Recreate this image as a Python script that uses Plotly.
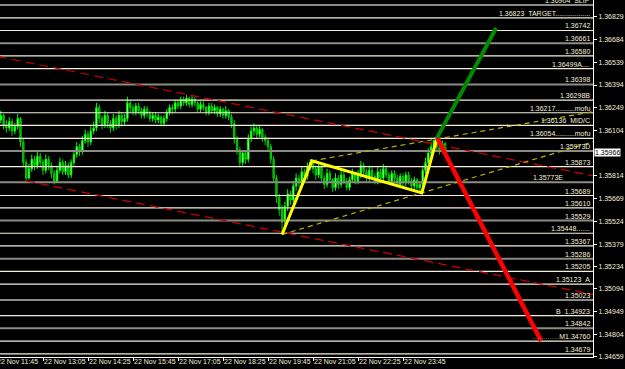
import plotly.graph_objects as go

# ---------------- data ----------------
first_open = 1.3614
closes = [1.3617, 1.3620, 1.3614, 1.3612, 1.3616, 1.3610, 1.3613, 1.3618, 1.3603, 1.3590,
          1.3580, 1.3586, 1.3592, 1.3588, 1.3594, 1.3590, 1.3585, 1.3592, 1.3588, 1.3583,
          1.3578, 1.3585, 1.3590, 1.3584, 1.3588, 1.3582, 1.3590, 1.3595, 1.3600, 1.3597,
          1.3604, 1.3608, 1.3603, 1.3610, 1.3612, 1.3625, 1.3618, 1.3614, 1.3620, 1.3615,
          1.3612, 1.3618, 1.3614, 1.3620, 1.3616, 1.3618, 1.3628, 1.3625, 1.3622, 1.3626,
          1.3623, 1.3620, 1.3624, 1.3621, 1.3618, 1.3620, 1.3617, 1.3619, 1.3615, 1.3618,
          1.3622, 1.3625, 1.3624, 1.3628, 1.3626, 1.3630, 1.3628, 1.3631, 1.3627, 1.3630,
          1.3628, 1.3624, 1.3627, 1.3625, 1.3622, 1.3626, 1.3623, 1.3625, 1.3621, 1.3624,
          1.3620, 1.3623, 1.3619, 1.3615, 1.3605, 1.3598, 1.3590, 1.3596, 1.3592, 1.3605,
          1.3610, 1.3612, 1.3608, 1.3611, 1.3606, 1.3604, 1.3600, 1.3592, 1.3580, 1.3568,
          1.3560, 1.3552, 1.3562, 1.3570, 1.3566, 1.3575, 1.3580, 1.3577, 1.3584, 1.3581,
          1.3587, 1.3590, 1.3586, 1.3582, 1.3587, 1.3580, 1.3576, 1.3583, 1.3579, 1.3574,
          1.3580, 1.3576, 1.3582, 1.3578, 1.3574, 1.3579, 1.3583, 1.3578, 1.3582, 1.3588,
          1.3584, 1.3580, 1.3585, 1.3581, 1.3578, 1.3584, 1.3580, 1.3586, 1.3582, 1.3578,
          1.3583, 1.3580, 1.3576, 1.3581, 1.3577, 1.3582, 1.3578, 1.3575, 1.3579, 1.3574,
          1.3576, 1.3585, 1.3590, 1.3596, 1.3600, 1.3604, 1.3600, 1.3598, 1.3602, 1.35966]
highs = [1.3620, 1.3623, 1.3621, 1.3617, 1.3619, 1.3618, 1.3615, 1.3621, 1.3619, 1.3605,
         1.3592, 1.3589, 1.3595, 1.3594, 1.3597, 1.3596, 1.3592, 1.3595, 1.3594, 1.3590,
         1.3585, 1.3588, 1.3593, 1.3592, 1.3591, 1.3590, 1.3592, 1.3598, 1.3603, 1.3602,
         1.3607, 1.3611, 1.3610, 1.3613, 1.3616, 1.3628, 1.3627, 1.3620, 1.3623, 1.3622,
         1.3617, 1.3621, 1.3620, 1.3623, 1.3622, 1.3621, 1.3632, 1.3630, 1.3627, 1.3628,
         1.3628, 1.3625, 1.3626, 1.3626, 1.3623, 1.3622, 1.3622, 1.3621, 1.3620, 1.3620,
         1.3624, 1.3627, 1.3627, 1.3630, 1.3630, 1.3632, 1.3632, 1.3633, 1.3632, 1.3633,
         1.3632, 1.3629, 1.3629, 1.3629, 1.3626, 1.3628, 1.3628, 1.3627, 1.3626, 1.3626,
         1.3625, 1.3626, 1.3624, 1.3621, 1.3617, 1.3607, 1.3600, 1.3598, 1.3598, 1.3608,
         1.3613, 1.3615, 1.3614, 1.3614, 1.3612, 1.3608, 1.3606, 1.3602, 1.3594, 1.3582,
         1.3570, 1.3563, 1.3565, 1.3573, 1.3572, 1.3578, 1.3583, 1.3582, 1.3587, 1.3586,
         1.3590, 1.3592, 1.3591, 1.3588, 1.3589, 1.3588, 1.3582, 1.3586, 1.3585, 1.3580,
         1.3583, 1.3582, 1.3585, 1.3584, 1.3580, 1.3581, 1.3586, 1.3584, 1.3585, 1.3591,
         1.3590, 1.3586, 1.3588, 1.3587, 1.3583, 1.3587, 1.3586, 1.3589, 1.3588, 1.3584,
         1.3585, 1.3585, 1.3582, 1.3583, 1.3583, 1.3584, 1.3584, 1.3580, 1.3581, 1.3580,
         1.3578, 1.3588, 1.3593, 1.3599, 1.3603, 1.3606, 1.3605, 1.3602, 1.3604, 1.3603]
lows = [1.3612, 1.3615, 1.3611, 1.3609, 1.3610, 1.3607, 1.3608, 1.3611, 1.3600, 1.3587,
        1.3578, 1.3579, 1.3584, 1.3585, 1.3586, 1.3587, 1.3582, 1.3583, 1.3585, 1.3580,
        1.3576, 1.3577, 1.3583, 1.3582, 1.3582, 1.3580, 1.3580, 1.3588, 1.3593, 1.3594,
        1.3595, 1.3602, 1.3600, 1.3601, 1.3608, 1.3610, 1.3615, 1.3611, 1.3612, 1.3612,
        1.3609, 1.3610, 1.3611, 1.3612, 1.3613, 1.3614, 1.3616, 1.3622, 1.3620, 1.3620,
        1.3621, 1.3618, 1.3618, 1.3619, 1.3616, 1.3616, 1.3615, 1.3615, 1.3613, 1.3613,
        1.3616, 1.3620, 1.3621, 1.3622, 1.3624, 1.3624, 1.3626, 1.3626, 1.3625, 1.3625,
        1.3626, 1.3622, 1.3622, 1.3623, 1.3620, 1.3620, 1.3621, 1.3621, 1.3619, 1.3619,
        1.3618, 1.3618, 1.3617, 1.3612, 1.3602, 1.3595, 1.3587, 1.3588, 1.3589, 1.3590,
        1.3603, 1.3607, 1.3605, 1.3606, 1.3603, 1.3601, 1.3597, 1.3589, 1.3577, 1.3564,
        1.3556, 1.3544, 1.3550, 1.3559, 1.3563, 1.3564, 1.3572, 1.3574, 1.3575, 1.3578,
        1.3579, 1.3585, 1.3583, 1.3579, 1.3580, 1.3578, 1.3573, 1.3574, 1.3577, 1.3571,
        1.3572, 1.3573, 1.3574, 1.3576, 1.3572, 1.3572, 1.3577, 1.3576, 1.3576, 1.3580,
        1.3582, 1.3578, 1.3578, 1.3579, 1.3576, 1.3576, 1.3578, 1.3578, 1.3580, 1.3576,
        1.3576, 1.3578, 1.3574, 1.3574, 1.3575, 1.3575, 1.3576, 1.3573, 1.3573, 1.3572,
        1.3571, 1.3574, 1.3583, 1.3588, 1.3594, 1.3598, 1.3597, 1.3595, 1.3596, 1.3595]
bars = list(range(len(closes)))
opens = [first_open] + closes[:-1]

# horizontal levels
level_prices = [1.36904, 1.36823, 1.36742, 1.36661, 1.36580, 1.36499, 1.36398, 1.36298, 1.36217,
                1.36136, 1.36054, 1.35973, 1.35873, 1.35773, 1.35689, 1.35610, 1.35529, 1.35448,
                1.35367, 1.35286, 1.35205, 1.35123, 1.35023, 1.34923, 1.34842, 1.34760, 1.34679]
level_labels = ["1.36904\u00a0\u00a0SLIP", "1.36823\u00a0\u00a0TARGET..................", "1.36742",
                "1.36661", "1.36580", "1.36499A....", "1.36398", "1.36298B",
                "1.36217..........mofu", "1.36136\u00a0\u00a0MID/C", "1.36054..........mofu",
                "1.35973D", "1.35873", "1.35773E", "1.35689", "1.35610", "1.35529",
                "1.35448.......", "1.35367", "1.35286", "1.35205", "1.35123\u00a0\u00a0A",
                "1.35023", "B\u00a0\u00a01.34923", "1.34842",
                "<span style='color:#7fa040'>..............</span>M1.34760", "1.34679"]
level_gray = [1, 0, 0, 1, 0, 0, 1, 0, 0, 0, 0, 1, 0, 1, 0, 0, 1, 0, 0, 1, 0, 0, 1, 0, 1, 0, 0]
label_right = [0.997] * 27
label_right[13] = 0.951

# right axis
y_ticks = [1.36829, 1.36684, 1.36539, 1.36394, 1.36249, 1.36104, 1.35814, 1.35669,
           1.35524, 1.35379, 1.35234, 1.35094, 1.34949, 1.34804, 1.34659]
current_price = 1.35966

# time axis (bar index, 5 min bars)
time_ticks = [0, 16, 32, 48, 64, 80, 96, 112, 128, 144]
time_labels = ["22 Nov 11:45", "22 Nov 13:05", "22 Nov 14:25", "22 Nov 15:45", "22 Nov 17:05",
               "22 Nov 18:25", "22 Nov 19:45", "22 Nov 21:05", "22 Nov 22:25", "22 Nov 23:45"]

# trend lines (bar index, price)
red_upper_x, red_upper_y = [0, 212], [1.36576, 1.35813]
red_lower_x, red_lower_y = [10, 212], [1.35782, 1.35056]
yel_upper_x, yel_upper_y = [111.6, 212], [1.35910, 1.36225]
yel_lower_x, yel_lower_y = [101, 212], [1.35440, 1.36034]
zig_x, zig_y = [101, 111.6, 150.7, 156.1], [1.35440, 1.35910, 1.35706, 1.36057]
down_x, down_y = [156.1, 193.1], [1.36057, 1.34760]
up_x, up_y = [156.1, 177.1], [1.36057, 1.36758]

X_RANGE = [0.711, 211.556]
Y_RANGE = [1.346585, 1.369365]
FONT = "Liberation Sans"
TXT = "#f2eedc"

fig = go.Figure()

fig.add_trace(go.Candlestick(
    x=bars, open=opens, high=highs, low=lows, close=closes,
    increasing=dict(line=dict(color="#00ff00", width=1), fillcolor="#e8ffe8"),
    decreasing=dict(line=dict(color="#00d000", width=1), fillcolor="#00a000"),
    whiskerwidth=0, showlegend=False, hoverinfo="skip"))

for p, g in zip(level_prices, level_gray):
    fig.add_trace(go.Scatter(
        x=X_RANGE, y=[p, p], mode="lines", hoverinfo="skip", showlegend=False,
        line=dict(color="#8c8c84" if g else "#f4efdc", width=2 if g else 1.2)))

for xs, ys in [(red_upper_x, red_upper_y), (red_lower_x, red_lower_y)]:
    fig.add_trace(go.Scatter(x=xs, y=ys, mode="lines", showlegend=False, hoverinfo="skip",
                             line=dict(color="#c80000", width=1.2, dash="9px,5px")))
for xs, ys in [(yel_upper_x, yel_upper_y), (yel_lower_x, yel_lower_y)]:
    fig.add_trace(go.Scatter(x=xs, y=ys, mode="lines", showlegend=False, hoverinfo="skip",
                             line=dict(color="#b4b400", width=1.2, dash="5px,4px")))

fig.add_trace(go.Scatter(x=zig_x, y=zig_y, mode="lines", showlegend=False, hoverinfo="skip",
                         line=dict(color="#ffff00", width=3)))
fig.add_trace(go.Scatter(x=down_x, y=down_y, mode="lines", showlegend=False, hoverinfo="skip",
                         line=dict(color="#ff0000", width=4.5)))
fig.add_trace(go.Scatter(x=up_x, y=up_y, mode="lines", showlegend=False, hoverinfo="skip",
                         line=dict(color="#008c00", width=4)))

ann = []
for p, t, xr in zip(level_prices, level_labels, label_right):
    ann.append(dict(xref="paper", yref="y", x=xr, y=p, text=t, showarrow=False,
                    xanchor="right", yanchor="bottom", yshift=0, borderpad=0,
                    font=dict(family=FONT, size=7, color=TXT)))

for k, t in zip(time_ticks, time_labels):
    if k < X_RANGE[0]:
        ann.append(dict(xref="paper", yref="paper", x=0, y=0, xshift=-4, text=t, showarrow=False,
                        xanchor="left", yanchor="top", borderpad=0,
                        font=dict(family=FONT, size=7, color=TXT)))
    else:
        ann.append(dict(xref="x", yref="paper", x=k, y=0, text=t, showarrow=False,
                        xanchor="left", yanchor="top", borderpad=0,
                        font=dict(family=FONT, size=7, color=TXT)))

ann.append(dict(xref="paper", yref="y", x=1.0, y=current_price, text="%.5f" % current_price,
                showarrow=False, xanchor="left", yanchor="middle", xshift=1, bgcolor="#ffffff",
                borderpad=0, font=dict(family=FONT, size=7, color="#000000")))

fig.update_layout(
    width=625, height=369, margin=dict(l=0, r=32, t=0, b=12),
    paper_bgcolor="#000000", plot_bgcolor="#000000",
    annotations=ann, showlegend=False,
    xaxis=dict(range=X_RANGE, showgrid=False, zeroline=False, showline=True, linecolor="#ffffff",
               linewidth=1, ticks="outside", ticklen=3, tickcolor="#ffffff",
               tickvals=time_ticks[1:], showticklabels=False, rangeslider=dict(visible=False),
               fixedrange=True),
    yaxis=dict(range=Y_RANGE, side="right", showgrid=False, zeroline=False, showline=True,
               linecolor="#ffffff", linewidth=1, ticks="outside", ticklen=3, tickcolor="#ffffff",
               tickvals=y_ticks, ticktext=["%.5f" % v for v in y_ticks],
               tickfont=dict(family=FONT, size=7, color=TXT), fixedrange=True),
)

fig.write_html("out.html")
